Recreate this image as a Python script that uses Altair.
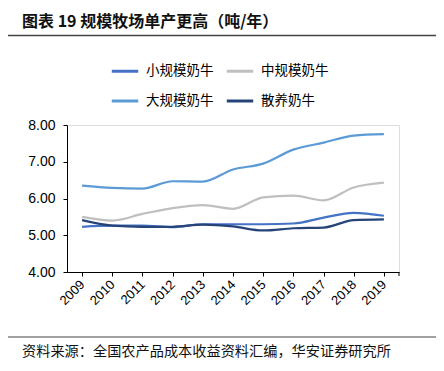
import altair as alt
import pandas as pd

years = ["2009", "2010", "2011", "2012", "2013", "2014", "2015", "2016", "2017", "2018", "2019"]
series_names = ["小规模奶牛", "大规模奶牛", "中规模奶牛", "散养奶牛"]
small = [5.23, 5.26, 5.26, 5.22, 5.30, 5.30, 5.30, 5.32, 5.48, 5.61, 5.53]
large = [6.35, 6.29, 6.27, 6.47, 6.46, 6.79, 6.95, 7.33, 7.52, 7.71, 7.75]
medium = [5.50, 5.40, 5.58, 5.74, 5.82, 5.72, 6.03, 6.08, 5.95, 6.30, 6.43]
scattered = [5.41, 5.26, 5.23, 5.23, 5.29, 5.24, 5.13, 5.19, 5.21, 5.41, 5.43]
colors = ["#4472C4", "#5B9BD5", "#BFBFBF", "#264478"]

title_text = "图表 19  规模牧场单产更高（吨/年）"
source_text = "资料来源：全国农产品成本收益资料汇编，华安证券研究所"

rows = []
for name, vals in zip(series_names, [small, large, medium, scattered]):
    for y, v in zip(years, vals):
        rows.append({"year": y, "series": name, "value": v})
df = pd.DataFrame(rows)

W, H = 332, 147
PL, PT = 59, 117

xscale = alt.Scale(domain=years, paddingInner=0, paddingOuter=0)

lines = alt.Chart(df).mark_line(strokeWidth=2.2, interpolate="monotone").encode(
    x=alt.X("year:N", scale=xscale, sort=years,
            axis=alt.Axis(title=None, orient="bottom", labelAngle=-45, labelAlign="right",
                          labelBaseline="middle",
                          labelFont="Liberation Sans", labelFontSize=13, labelColor="#000",
                          ticks=False, domain=False, labelPadding=10)),
    y=alt.Y("value:Q", scale=alt.Scale(domain=[4, 8], nice=False, zero=False),
            axis=alt.Axis(title=None, values=[4, 5, 6, 7, 8], format=".2f", grid=False,
                          labelFont="Liberation Sans", labelFontSize=14, labelColor="#000",
                          domainColor="#000", tickColor="#000", tickSize=4, labelPadding=8)),
    color=alt.Color("series:N", sort=series_names,
                    scale=alt.Scale(domain=series_names, range=colors),
                    legend=alt.Legend(title=None, orient="none", legendX=43, legendY=-69,
                                      columns=2, columnPadding=6, rowPadding=8,
                                      symbolType="stroke", symbolStrokeWidth=3, symbolSize=700,
                                      labelFont="Noto Sans CJK SC", labelFontSize=13.5,
                                      labelColor="#000", labelOffset=6)),
)

ticks_axis = alt.Chart(df).mark_point(opacity=0).encode(
    x=alt.X("year:N", scale=xscale, sort=years,
            axis=alt.Axis(title=None, orient="bottom", labels=False, bandPosition=0,
                          domainColor="#000", tickColor="#000", tickSize=4)),
)

end_tick = alt.Chart(pd.DataFrame({"a": [0]})).mark_rule(color="#000").encode(
    x=alt.value(W), y=alt.value(H), y2=alt.value(H + 4)
)

title = alt.Chart(pd.DataFrame({"t": [title_text]})).mark_text(
    align="left", baseline="middle", font="Noto Sans CJK SC", fontSize=16, fontWeight="bold", color="#111"
).encode(x=alt.value(-45), y=alt.value(22 - 8 - PT), text="t:N")

source = alt.Chart(pd.DataFrame({"t": [source_text]})).mark_text(
    align="left", baseline="middle", font="Noto Sans CJK SC", fontSize=14.2, color="#111"
).encode(x=alt.value(-45), y=alt.value(352 - 8 - PT), text="t:N")

top_rule = alt.Chart(pd.DataFrame({"a": [0]})).mark_rule(color="#444", strokeWidth=1.5).encode(
    x=alt.value(-PL), x2=alt.value(W + 40), y=alt.value(35.5 - 8 - PT)
)
bottom_rule = alt.Chart(pd.DataFrame({"a": [0]})).mark_rule(color="#444", strokeWidth=1.2).encode(
    x=alt.value(-PL), x2=alt.value(W + 40), y=alt.value(337 - 8 - PT)
)

chart = alt.layer(ticks_axis, lines, end_tick, title, source, top_rule, bottom_rule).resolve_axis(
    x="independent"
).properties(
    width=W, height=H,
    autosize=alt.AutoSizeParams(type="none"),
    padding={"left": PL, "top": PT, "right": 428 - PL - W, "bottom": 355 - PT - H},
).configure_view(stroke=None).configure(background="white")

chart.save("out.html", embed_options={"renderer": "svg", "actions": False})
